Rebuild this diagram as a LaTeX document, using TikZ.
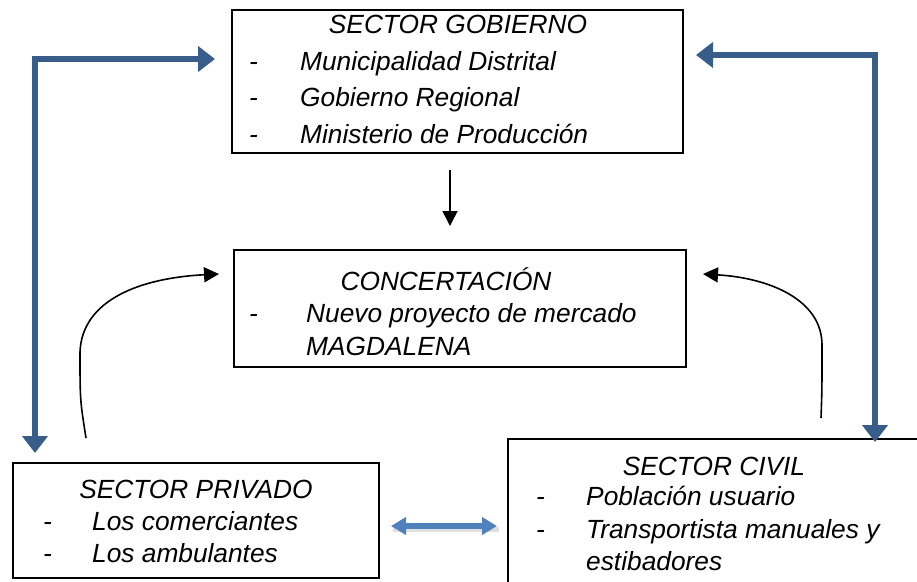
\documentclass[tikz,border=0pt]{standalone}
\usepackage{fontspec}
\setmainfont{Liberation Sans}
\usepackage{tikz}
\usetikzlibrary{arrows.meta,positioning}
\definecolor{linkdark}{HTML}{385D8A}
\definecolor{linklight}{HTML}{4F81BD}
\definecolor{linkshadow}{HTML}{BFBFBF}

\tikzset{
    sectorbox/.style={draw=black, line width=1.8pt, inner sep=0pt},
    boxtext/.style={inner sep=0pt, font=\fontsize{26.3}{32}\selectfont\itshape},
    bluelink/.style={draw=linkdark, line width=6pt, {Triangle[width=25pt,length=17pt]}-{Triangle[width=25pt,length=17pt]}},
    pairlink/.style={draw=linklight, line width=6pt, {Triangle[width=17pt,length=15pt]}-{Triangle[width=17pt,length=15pt]}},
    blacklink/.style={draw=black, line width=1.6pt, -{Triangle[width=15pt,length=15pt]}}
}

\begin{document}
\begin{tikzpicture}[x=1pt, y=-1pt]
    \useasboundingbox (0,0) rectangle (917,581);

    % Sector boxes
    \node[sectorbox, minimum width=451pt, minimum height=143pt] (gob) at (457.5,81.5) {};
    \node[sectorbox, minimum width=452pt, minimum height=117pt] (conc) at (460,308.5) {};
    \node[sectorbox, minimum width=366pt, minimum height=115pt] (priv) at (196,520.5) {};
    \node[sectorbox, minimum width=414pt, minimum height=147pt] (civ) at (715,512.5) {};

    % Sector gobierno
    \node[boxtext, anchor=base] (gobtitle) at (458,33) {SECTOR GOBIERNO};
    \node[boxtext, anchor=base west] (gobdasha) at (249,70) {-};
    \node[boxtext, anchor=base west] (gobdashb) at (249,106) {-};
    \node[boxtext, anchor=base west] (gobdashc) at (249,143) {-};
    \node[boxtext, anchor=base west] (gobmuni) at (300,70) {Municipalidad Distrital};
    \node[boxtext, anchor=base west] (gobreg) at (300,106) {Gobierno Regional};
    \node[boxtext, anchor=base west] (gobmin) at (300,143) {Ministerio de Producción};

    % Concertacion
    \node[boxtext, anchor=base] (conctitle) at (446,290) {CONCERTACIÓN};
    \node[boxtext, anchor=base west] (concdash) at (249,322) {-};
    \node[boxtext, anchor=base west] (concnuevo) at (306,322) {Nuevo proyecto de mercado};
    \node[boxtext, anchor=base west] (concmag) at (306,355) {MAGDALENA};

    % Sector privado
    \node[boxtext, anchor=base] (privtitle) at (196,498) {SECTOR PRIVADO};
    \node[boxtext, anchor=base west] (privdasha) at (43,530) {-};
    \node[boxtext, anchor=base west] (privdashb) at (43,562) {-};
    \node[boxtext, anchor=base west] (privcom) at (92,530) {Los comerciantes};
    \node[boxtext, anchor=base west] (privamb) at (92,562) {Los ambulantes};

    % Sector civil
    \node[boxtext, anchor=base] (civtitle) at (714,475) {SECTOR CIVIL};
    \node[boxtext, anchor=base west] (civdasha) at (536,505) {-};
    \node[boxtext, anchor=base west] (civdashb) at (536,538) {-};
    \node[boxtext, anchor=base west] (civpob) at (586,505) {Población usuario};
    \node[boxtext, anchor=base west] (civtrans) at (586,538) {Transportista manuales y};
    \node[boxtext, anchor=base west] (civest) at (586,570) {estibadores};

    % Free ends of the connectors
    \coordinate (gobleft) at (215,59);
    \coordinate (privtop) at (35,453);
    \coordinate (gobright) at (696,55);
    \coordinate (civtop) at (875,442);
    \coordinate (gobdown) at (450,170);
    \coordinate (concup) at (450,226);
    \coordinate (privright) at (391,526);
    \coordinate (civleft) at (497,526);
    \coordinate (privfoot) at (86,438);
    \coordinate (concleft) at (219,274);
    \coordinate (civfoot) at (821,418);
    \coordinate (concright) at (703,274);

    % Blue links between gobierno and the other sectors
    \draw[bluelink] (privtop) |- (gobleft);
    \draw[bluelink] (civtop) |- (gobright);

    % Privado <-> civil
    \draw[draw=linkshadow, line width=5pt, opacity=0.5] ([shift={(2,3)}]privright) -- ([shift={(2,3)}]civleft);
    \draw[pairlink] (privright) -- (civleft);

    % Black arrows towards concertacion
    \draw[blacklink] (gobdown) -- (concup);
    \draw[blacklink] (privfoot) .. controls (80,400) .. (80,352) .. controls (82,300) and (140,278) .. (concleft);
    \draw[blacklink] (civfoot) .. controls (822,390) .. (822,345) .. controls (822,300) and (770,278) .. (concright);
\end{tikzpicture}
\end{document}
